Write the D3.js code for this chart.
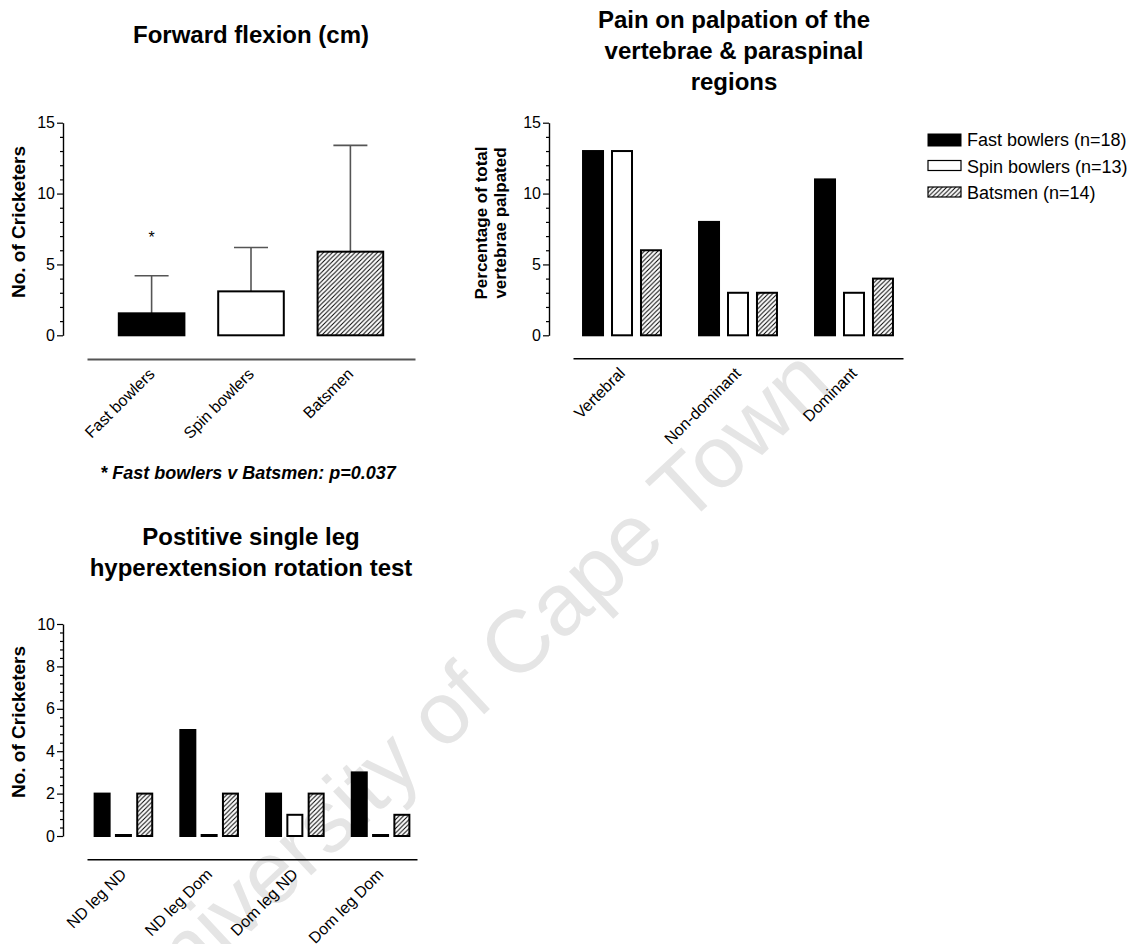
<!DOCTYPE html>
<html><head><meta charset="utf-8">
<script src="https://cdn.jsdelivr.net/npm/d3@7"></script>
<style>
html,body{margin:0;padding:0;background:#fff;}
svg{display:block;font-family:"Liberation Sans",Arial,Helvetica,sans-serif;}
</style></head><body>
<svg id="chart" width="1137" height="944"></svg>
<script>
// ---------- data ----------
const flexCategories = ["Fast bowlers", "Spin bowlers", "Batsmen"];
const flexMeans = [1.55, 3.1, 5.9];
const flexSD = [2.65, 3.1, 7.5];
const flexTicks = [0, 5, 10, 15];

const seriesNames = ["Fast bowlers (n=18)", "Spin bowlers (n=13)", "Batsmen (n=14)"];

const palpRegions = ["Vertebral", "Non-dominant", "Dominant"];
const palpFast = [13, 8, 11];
const palpSpin = [13, 3, 3];
const palpBat = [6, 3, 4];
const palpTicks = [0, 5, 10, 15];

const slhrCategories = ["ND leg ND", "ND leg Dom", "Dom leg ND", "Dom leg Dom"];
const slhrFast = [2, 5, 2, 3];
const slhrSpin = [0, 0, 1, 0];
const slhrBat = [2, 2, 2, 1];
const slhrTicks = [0, 2, 4, 6, 8, 10];

// ---------- setup ----------
const svg = d3.select("#chart");
const defs = svg.append("defs");
const pat = defs.append("pattern").attr("id", "hatch")
  .attr("patternUnits", "userSpaceOnUse").attr("width", 4.5).attr("height", 4.5);
pat.append("rect").attr("width", 4.5).attr("height", 4.5).attr("fill", "#fff");
pat.append("path").attr("d", "M-1,1 L1,-1 M0,4.5 L4.5,0 M3.5,5.5 L5.5,3.5")
  .attr("stroke", "#000").attr("stroke-width", 1);

const fills = ["#000", "#fff", "url(#hatch)"];

// watermark
svg.append("text")
  .attr("transform", "translate(835,387) rotate(-43)")
  .attr("text-anchor", "end")
  .attr("font-size", 88)
  .attr("fill", "#e5e5e5")
  .text("University of Cape Town");

function drawYAxis(y, x0, major, minorStep) {
  const [d0, d1] = y.domain();
  const minor = d3.range(d0, d1 + 1e-9, minorStep).filter(v => !major.some(m => Math.abs(m - v) < 1e-9));
  svg.append("g").attr("transform", `translate(${x0},0)`)
    .call(d3.axisLeft(y).tickValues(minor).tickSize(3).tickFormat(""))
    .call(g => g.select(".domain").remove())
    .selectAll("line").attr("stroke", "#000").attr("stroke-width", 1.2);
  const ax = svg.append("g").attr("transform", `translate(${x0},0)`)
    .call(d3.axisLeft(y).tickValues(major).tickSize(6).tickSizeOuter(0).tickPadding(2));
  ax.attr("font-size", 16).attr("font-family", null);
  ax.select(".domain").attr("stroke", "#000").attr("stroke-width", 1.4);
  ax.selectAll(".tick line").attr("stroke", "#000").attr("stroke-width", 1.2);
  ax.selectAll("text").attr("fill", "#000");
}

function drawXAxis(x, yPos, color, width) {
  const ax = svg.append("g").attr("transform", `translate(0,${yPos})`)
    .call(d3.axisBottom(x).tickSize(0).tickSizeOuter(0));
  ax.attr("font-size", 16).attr("font-family", null);
  ax.select(".domain").attr("stroke", color).attr("stroke-width", width);
  ax.selectAll("text")
    .attr("fill", "#000")
    .attr("text-anchor", "end")
    .attr("x", 0).attr("y", 0)
    .attr("dy", "0.35em")
    .attr("transform", "translate(0,12) rotate(-45)");
}

function title(lines, cx, y0, lh, size) {
  const t = svg.append("text").attr("text-anchor", "middle")
    .attr("font-size", size).attr("font-weight", "bold");
  lines.forEach((l, i) => t.append("tspan").attr("x", cx).attr("y", y0 + i * lh).text(l));
}

function yLabel(lines, cx, cy, size, lh) {
  const t = svg.append("text").attr("text-anchor", "middle")
    .attr("font-size", size).attr("font-weight", "bold")
    .attr("transform", `translate(${cx},${cy}) rotate(-90)`);
  lines.forEach((l, i) => t.append("tspan").attr("x", 0).attr("y", i * lh).text(l));
}

// ---------- Panel 1: Forward flexion ----------
{
  const y = d3.scaleLinear().domain([0, 15]).range([335.3, 122.7]);
  const x = d3.scaleBand().domain(flexCategories).range([87, 415]).paddingInner(0.34).paddingOuter(0.32);
  drawYAxis(y, 63, flexTicks, 1);
  const data = flexCategories.map((c, i) => ({ c, m: flexMeans[i], sd: flexSD[i], i }));
  const eb = svg.append("g").attr("stroke", "#555").attr("stroke-width", 1.6);
  data.forEach(d => {
    const cx = x(d.c) + x.bandwidth() / 2;
    eb.append("line").attr("x1", cx).attr("x2", cx).attr("y1", y(d.m)).attr("y2", y(d.m + d.sd));
    eb.append("line").attr("x1", cx - 17).attr("x2", cx + 17).attr("y1", y(d.m + d.sd)).attr("y2", y(d.m + d.sd));
  });
  svg.append("g").selectAll("rect").data(data).join("rect")
    .attr("x", d => x(d.c)).attr("width", x.bandwidth())
    .attr("y", d => y(d.m)).attr("height", d => y(0) - y(d.m))
    .attr("fill", d => fills[d.i]).attr("stroke", "#000").attr("stroke-width", 2);
  svg.append("text").attr("x", x(flexCategories[0]) + x.bandwidth() / 2).attr("y", y(6.5))
    .attr("text-anchor", "middle").attr("font-size", 16).text("*");
  drawXAxis(x, 359, "#555", 2);
  title(["Forward flexion (cm)"], 251, 43, 31, 24);
  yLabel(["No. of Cricketers"], 25, 222, 19, 20);
  svg.append("text").attr("x", 248).attr("y", 479).attr("text-anchor", "middle")
    .attr("font-size", 18).attr("font-weight", "bold").attr("font-style", "italic")
    .text("* Fast bowlers v Batsmen: p=0.037");
}

// ---------- Panel 2: Pain on palpation ----------
{
  const y = d3.scaleLinear().domain([0, 15]).range([335.3, 122.7]);
  const x = d3.scaleBand().domain(palpRegions).range([573, 903]).paddingInner(0.328).paddingOuter(0.0865);
  const xs = d3.scaleBand().domain(d3.range(3)).range([0, x.bandwidth()]).paddingInner(0.31).paddingOuter(0);
  drawYAxis(y, 549, palpTicks, 1);
  const vals = [palpFast, palpSpin, palpBat];
  const data = [];
  palpRegions.forEach((r, i) => vals.forEach((s, j) => data.push({ r, j, v: s[i] })));
  svg.append("g").selectAll("rect").data(data).join("rect")
    .attr("x", d => x(d.r) + xs(d.j)).attr("width", xs.bandwidth())
    .attr("y", d => Math.min(y(d.v), y(0) - 1)).attr("height", d => Math.max(1, y(0) - y(d.v)))
    .attr("fill", d => fills[d.j]).attr("stroke", "#000").attr("stroke-width", 2);
  drawXAxis(x, 358.3, "#000", 1.6);
  title(["Pain on palpation of the", "vertebrae & paraspinal", "regions"], 734, 28, 31, 24);
  yLabel(["Percentage of total", "vertebrae palpated"], 487, 223, 17, 19);

  const lg = svg.append("g");
  seriesNames.forEach((n, j) => {
    const by = 146 + j * 26.5;
    lg.append("rect").attr("x", 928).attr("y", by - 12).attr("width", 33).attr("height", j === 0 ? 12 : 10)
      .attr("fill", fills[j]).attr("stroke", "#000").attr("stroke-width", j === 0 ? 1 : 1.2);
    lg.append("text").attr("x", 967).attr("y", by).attr("font-size", 18).text(n);
  });
}

// ---------- Panel 3: SLHR test ----------
{
  const y = d3.scaleLinear().domain([0, 10]).range([836, 624]);
  const x = d3.scaleBand().domain(slhrCategories).range([87, 417]).paddingInner(0.328).paddingOuter(0.089);
  const xs = d3.scaleBand().domain(d3.range(3)).range([0, x.bandwidth()]).paddingInner(0.296).paddingOuter(0);
  drawYAxis(y, 63, slhrTicks, 0.4);
  const vals = [slhrFast, slhrSpin, slhrBat];
  const data = [];
  slhrCategories.forEach((c, i) => vals.forEach((s, j) => data.push({ c, j, v: s[i] })));
  svg.append("g").selectAll("rect").data(data).join("rect")
    .attr("x", d => x(d.c) + xs(d.j)).attr("width", xs.bandwidth())
    .attr("y", d => Math.min(y(d.v), y(0) - 1)).attr("height", d => Math.max(1, y(0) - y(d.v)))
    .attr("fill", d => fills[d.j]).attr("stroke", "#000").attr("stroke-width", 2);
  drawXAxis(x, 859.3, "#000", 1.6);
  title(["Postitive single leg", "hyperextension rotation test"], 251, 545, 31, 24);
  yLabel(["No. of Cricketers"], 25, 722, 19, 20);
}
</script>
</body></html>
